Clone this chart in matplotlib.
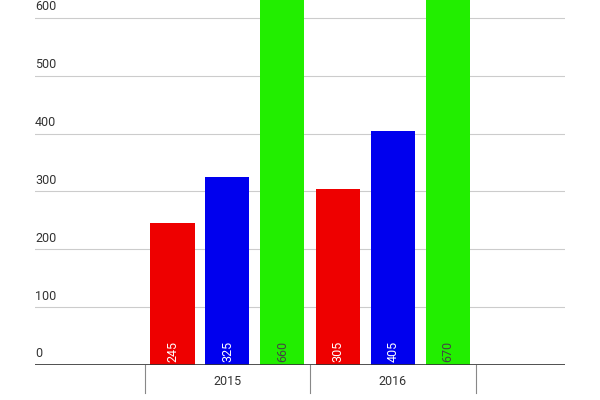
import matplotlib
matplotlib.use("Agg")
import matplotlib.pyplot as plt
import numpy as np

plt.rcParams['font.family'] = ['Roboto', 'DejaVu Sans']

years = ["2015", "2016"]
red_vals = [245, 305]
blue_vals = [325, 405]
green_vals = [660, 670]
y_ticks = [0, 100, 200, 300, 400, 500, 600]

fig = plt.figure(figsize=(6, 4), dpi=100)
ax = fig.add_axes([35 / 600, 35 / 400, 530 / 600, 365 / 400])

x = np.arange(len(years))
w = 0.266
off = 0.332
series = [(red_vals, "#ee0000", -off, "white"),
          (blue_vals, "#0000ee", 0, "white"),
          (green_vals, "#22ee00", off, "#444444")]
for vals, col, dx, tcol in series:
    ax.bar(x + dx, vals, width=w, color=col, zorder=2)
    for xi, v in zip(x, vals):
        ax.text(xi + dx, 5, str(v), rotation=90, ha="center", va="bottom",
                color=tcol, fontsize=9, zorder=3)

ax.set_xlim(-1.163, 2.04)
ax.set_ylim(0, 631)
for t in y_ticks:
    ax.axhline(t, color="#cccccc", lw=0.8, zorder=1)
    ax.text(-1.163, t + 8, str(t), ha="left", va="bottom", fontsize=9,
            color="#333333")
ax.axhline(0, color="#333333", lw=1.2, zorder=4)

for spine in ax.spines.values():
    spine.set_visible(False)
ax.set_yticks([])
ax.set_xticks([])

# category separators below the axis
for b in [-0.5, 0.5, 1.5]:
    ax.plot([b, b], [0, -48], color="#888888", lw=0.8, clip_on=False)
for xi, lab in zip(x, years):
    ax.text(xi, -28, lab, ha="center", va="center", fontsize=9, color="#333333")

fig.savefig("out.png", dpi=100)
